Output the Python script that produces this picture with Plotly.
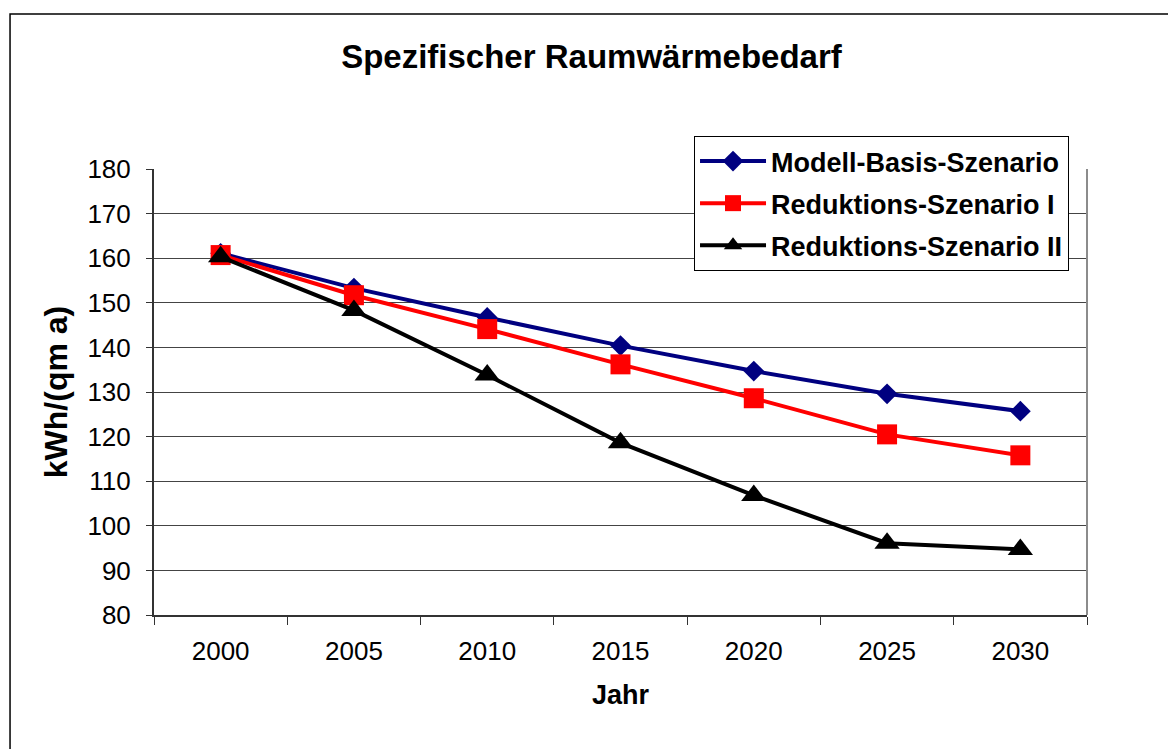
import plotly.graph_objects as go

# Years on the category axis
years = ["2000", "2005", "2010", "2015", "2020", "2025", "2030"]

# Specific space-heating demand in kWh/(qm a)
modell_basis = [161.1, 153.3, 146.7, 140.4, 134.7, 129.6, 125.7]
reduktion_1 = [160.7, 151.7, 144.1, 136.2, 128.6, 120.5, 115.8]
reduktion_2 = [160.3, 148.3, 133.8, 118.6, 106.8, 96.1, 94.7]

y_ticks = [80, 90, 100, 110, 120, 130, 140, 150, 160, 170, 180]

FONT = "Liberation Sans, Arial, sans-serif"

fig = go.Figure()

series = [
    ("Modell-Basis-Szenario", modell_basis, "#000080", "diamond", 16),
    ("Reduktions-Szenario I", reduktion_1, "#FF0000", "square", 20),
    ("Reduktions-Szenario II", reduktion_2, "#000000", "triangle-up", 22),
]

for name, values, color, symbol, size in series:
    fig.add_trace(go.Scatter(
        x=years,
        y=values,
        name="<b>" + name + "</b>",
        legendgroup=name,
        mode="lines+markers",
        line=dict(color=color, width=4),
        marker=dict(symbol=symbol, size=size, color=color, line=dict(width=0)),
    ))

# Outer chart frame
fig.add_shape(
    type="rect", xref="paper", yref="paper",
    x0=-0.1543, x1=1.095, y0=-0.32, y1=1.3475,
    line=dict(color="#000000", width=1.5), fillcolor="rgba(0,0,0,0)", layer="below",
)
# Plot-area border on the right side
fig.add_shape(
    type="line", xref="paper", yref="paper",
    x0=1, x1=1, y0=0, y1=1,
    line=dict(color="#8c8c8c", width=2),
)

fig.update_layout(
    width=1168,
    height=749,
    margin=dict(l=154, r=81, t=169, b=134),
    paper_bgcolor="white",
    plot_bgcolor="white",
    font=dict(family=FONT, color="#000000", size=25),
    title=dict(
        text="<b>Spezifischer Raumwärmebedarf</b>",
        x=0.5064, xref="container", xanchor="center",
        y=0.925, yref="container", yanchor="middle",
        font=dict(family=FONT, size=33, color="#000000"),
    ),
    showlegend=True,
    legend=dict(
        x=0.5788, xanchor="left",
        y=1.074, yanchor="top",
        bgcolor="white",
        bordercolor="#000000",
        borderwidth=1,
        font=dict(family=FONT, size=27, color="#000000"),
        tracegroupgap=4,
        itemwidth=66,
    ),
    xaxis=dict(
        type="category",
        categoryorder="array",
        categoryarray=years,
        range=[-0.5, 6.5],
        showgrid=False,
        showline=True,
        linecolor="#333333",
        linewidth=2,
        ticks="outside",
        tickson="boundaries",
        ticklen=8,
        tickcolor="#333333",
        tickwidth=1,
        ticklabelstandoff=12,
        tickfont=dict(family=FONT, size=26, color="#000000"),
        title=dict(text="<b>Jahr</b>", font=dict(family=FONT, size=27), standoff=20),
        zeroline=False,
    ),
    yaxis=dict(
        range=[80, 180],
        tickvals=y_ticks,
        showgrid=True,
        gridcolor="#444444",
        gridwidth=1,
        showline=True,
        linecolor="#333333",
        linewidth=2,
        ticks="outside",
        ticklen=6,
        tickcolor="#333333",
        tickwidth=1,
        ticklabelstandoff=10,
        tickfont=dict(family=FONT, size=26, color="#000000"),
        title=dict(text="<b>kWh/(qm a)</b>", font=dict(family=FONT, size=32), standoff=10),
        zeroline=False,
    ),
)

fig.write_html("out.html")
